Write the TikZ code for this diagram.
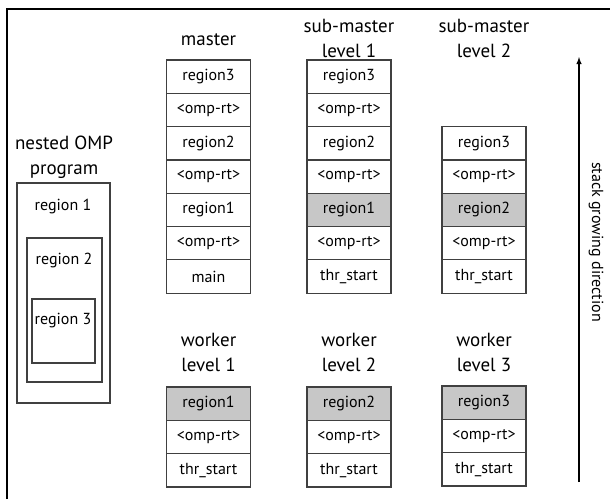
\documentclass[tikz,border=0pt]{standalone}
\usepackage{fontspec}
\setmainfont{PT Sans}
\usetikzlibrary{positioning,arrows}

\begin{document}
\begin{tikzpicture}[x=1pt,y=-1pt]
\tikzstyle{every node}=[font=\fontsize{16}{18}\selectfont]
\tikzstyle{cell}=[draw=black!75, line width=1.2pt, minimum width=84pt, minimum height=33.3pt, inner sep=0pt, outer sep=0pt]
\tikzstyle{busy}=[cell, fill=black!22]
\tikzstyle{title}=[align=center, font=\fontsize{19}{25}\selectfont]
\tikzstyle{box}=[draw=black!75, line width=1.2pt]

	\useasboundingbox (0,0) rectangle (610,499);
	\draw[line width=1.5pt] (7,499) -- (7,9) -- (610,9);

	% nested program
	\node[title] (prog) at (64,157) {nested OMP\\program};
	\draw[box] (17,183) rectangle (110,403);
	\draw[box] (27,238) rectangle (102,382);
	\draw[box] (32,299) rectangle (95,363);
	\node (r1) at (63,206) {region 1};
	\node (r2) at (64,260) {region 2};
	\node (r3) at (63,321) {region 3};

	% master stacks
	\node[title] (tm) at (208.5,40) {master};
	\foreach \txt/\sty [count=\i] in {region3/cell,<omp-rt>/cell,region2/cell,<omp-rt>/cell,region1/cell,<omp-rt>/cell,main/cell}
		\node[\sty] (m\i) at (208.5,60+\i*33.3-16.65) {\txt};

	\node[title] (ts1) at (349,38) {sub-master\\level 1};
	\foreach \txt/\sty [count=\i] in {region3/cell,<omp-rt>/cell,region2/cell,<omp-rt>/cell,region1/busy,<omp-rt>/cell,thr\_start/cell}
		\node[\sty] (s\i) at (349,60+\i*33.3-16.65) {\txt};

	\node[title] (ts2) at (484,38) {sub-master\\level 2};
	\foreach \txt/\sty [count=\i] in {region3/cell,<omp-rt>/cell,region2/busy,<omp-rt>/cell,thr\_start/cell}
		\node[\sty] (t\i) at (484,126.6+\i*33.3-16.65) {\txt};

	% worker stacks
	\node[title] (tw1) at (208.5,352) {worker\\level 1};
	\node[title] (tw2) at (349,352) {worker\\level 2};
	\node[title] (tw3) at (484,352) {worker\\level 3};
	\foreach \txt/\sty [count=\i] in {region1/busy,<omp-rt>/cell,thr\_start/cell}
		\node[\sty] (wa\i) at (208.5,387+\i*33.3-16.65) {\txt};
	\foreach \txt/\sty [count=\i] in {region2/busy,<omp-rt>/cell,thr\_start/cell}
		\node[\sty] (wb\i) at (349,387+\i*33.3-16.65) {\txt};
	\foreach \txt/\sty [count=\i] in {region3/busy,<omp-rt>/cell,thr\_start/cell}
		\node[\sty] (wc\i) at (484,386+\i*33.3-16.65) {\txt};

	% growing direction
	\coordinate (base) at (579,482);
	\coordinate (tip) at (579,57);
	\draw[line width=1.4pt,-latex] (base) -- (tip);
	\node[rotate=-90] (dir) at (596,242) {stack growing direction};
\end{tikzpicture}
\end{document}
